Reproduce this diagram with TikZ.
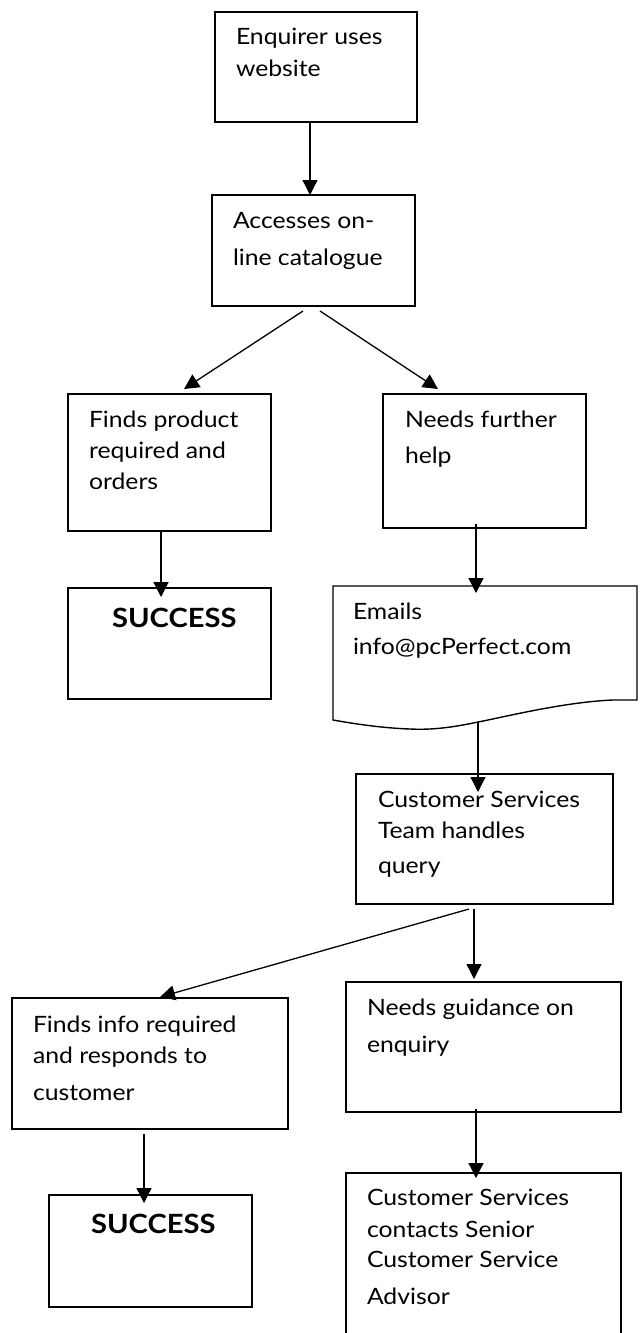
\documentclass[tikz,border=0pt]{standalone}
\usepackage{fontspec}
\setmainfont[FakeStretch=1.1]{Lato}
\usetikzlibrary{arrows.meta}
\tikzset{
  box/.style={draw=black, line width=1.4pt, inner sep=0pt, outer sep=0pt, anchor=north west, fill=white},
  arr/.style={draw=black, line width=1.3pt, -{Triangle[length=15pt,width=15pt]}},
  lbl/.style={anchor=base west, inner sep=0pt, outer sep=0pt, align=left, font=\fontsize{22.5}{31}\selectfont},
  win/.style={anchor=base west, inner sep=0pt, outer sep=0pt, font=\fontsize{26.5}{31}\selectfont\bfseries}
}
\begin{document}
\begin{tikzpicture}[x=1pt,y=-1pt]
\useasboundingbox[fill=white] (0,0) rectangle (644,1333);
% boxes
\node[box, minimum width=202pt, minimum height=110pt] (b1) at (215,12) {};
\node[box, minimum width=203pt, minimum height=111pt] (b2) at (212,195) {};
\node[box, minimum width=203pt, minimum height=137pt] (b3) at (68,394) {};
\node[box, minimum width=203pt, minimum height=134pt] (b4) at (383,394) {};
\node[box, minimum width=203pt, minimum height=111pt] (s1) at (68,588) {};
% document shape
\node[inner sep=0pt, outer sep=0pt, minimum width=304pt, minimum height=144pt, anchor=north west] (doc) at (333,586) {};
\draw[line width=1.4pt, fill=white] (333,586) -- (637,586) -- (637,700) -- (613,700)
  .. controls (563,702) and (500,718) .. (478,722)
  .. controls (450,728) and (430,730) .. (410,729)
  .. controls (380,728) and (350,723) .. (333,720) -- cycle;
\coordinate (docw) at (478,722);
\node[box, minimum width=257pt, minimum height=130pt] (cst) at (356,774) {};
\node[box, minimum width=276pt, minimum height=131pt] (fi) at (12,998) {};
\node[box, minimum width=275pt, minimum height=130pt] (ng) at (346,982) {};
\node[box, minimum width=203pt, minimum height=112pt] (s2) at (49,1195) {};
\begin{scope}
\clip (0,0) rectangle (644,1333);
\node[box, minimum width=275pt, minimum height=175pt] (csc) at (346,1173) {};
\end{scope}
% texts (anchored at the baseline of the last line)
\node[lbl] (t1) at (236,76) {Enquirer uses\\[1pt]website};
\node[lbl] (t2) at (233,265) {Accesses on-\\[6pt]line catalogue};
\node[lbl] (t3) at (89,489) {Finds product\\required and\\orders};
\node[lbl] (t4) at (405,463) {Needs further\\[5pt]help};
\node[win] (w1) at (112,627) {SUCCESS};
\node[lbl] (t5) at (353,654) {Emails\\[4pt]info@pcPerfect.com};
\node[lbl] (t6) at (378,873) {Customer Services\\Team handles\\[4pt]query};
\node[lbl] (t7) at (33,1100) {Finds info required\\and responds to\\[6pt]customer};
\node[lbl] (t8) at (367,1052) {Needs guidance on\\[6pt]enquiry};
\node[win] (w2) at (91,1233) {SUCCESS};
\node[lbl] (t9) at (367,1304) {Customer Services\\[1pt]contacts Senior\\[-1pt]Customer Service\\[6pt]Advisor};
% connectors
\draw[arr] ([xshift=-6pt]b1.south) -- ([xshift=-6pt]b1.south |- b2.north);
\draw[arr] ([shift={(-10.5,5)}]b2.south) -- ([shift={(14.5,-5)}]b3.north);
\draw[arr] ([shift={(6.5,5)}]b2.south) -- ([shift={(-46.5,-5)}]b4.north);
\draw[arr] ([xshift=-8.5pt]b3.south) -- ([shift={(-8.5,9)}]s1.north);
\draw[arr] ([shift={(-8.5,-4)}]b4.south) -- ([shift={(-8.5,7)}]b4.south |- doc.north);
\draw[arr] (docw) -- ([shift={(0,18)}]docw |- cst.north);
\draw[arr] ([shift={(-15.5,5)}]cst.south) -- ([shift={(10,-1)}]fi.north);
\draw[arr] ([shift={(-10.5,5)}]cst.south) -- ([shift={(-10.5,-3)}]cst.south |- ng.north);
\draw[arr] ([shift={(-6,5)}]fi.south) -- ([shift={(-6,8)}]fi.south |- s2.north);
\draw[arr] ([shift={(-7.5,-3)}]ng.south) -- ([shift={(-7.5,5)}]ng.south |- csc.north);
\end{tikzpicture}
\end{document}
